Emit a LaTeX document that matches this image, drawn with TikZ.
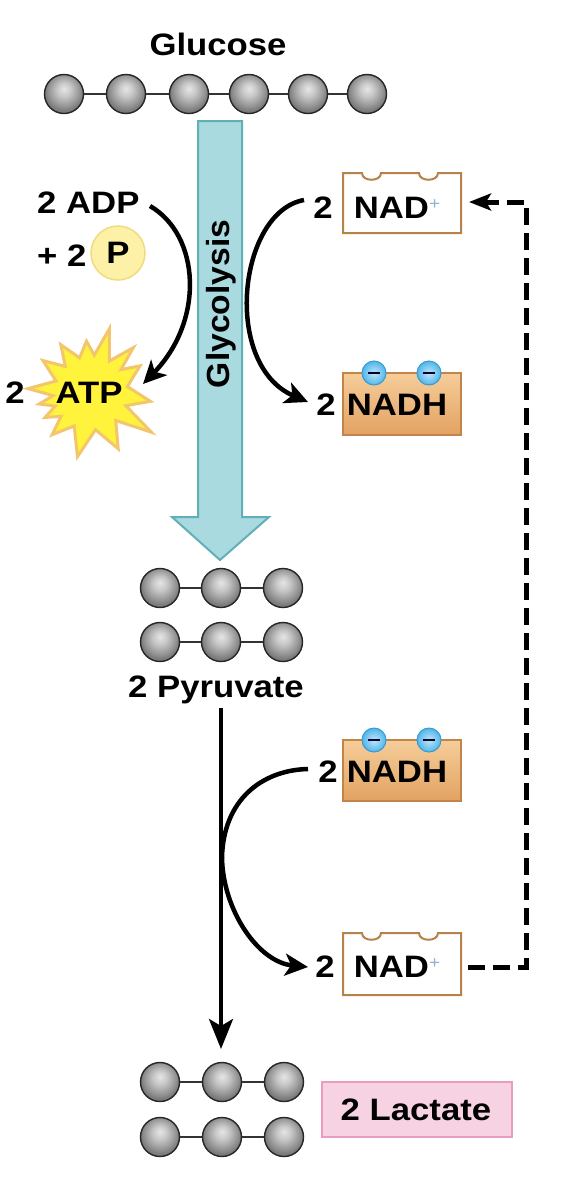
\documentclass[tikz,border=0pt]{standalone}
\usepackage{fontspec}
\setmainfont{Liberation Sans}[FakeStretch=1.12]
\newfontfamily\glyfont{Liberation Sans}[FakeStretch=1.05]
\usetikzlibrary{arrows.meta,shapes.geometric,calc}
\definecolor{shaftfill}{HTML}{A8DADF}
\definecolor{shaftdraw}{HTML}{62B0B6}
\definecolor{nadbrd}{HTML}{B5834A}
\definecolor{nadhtop}{HTML}{F6CD9A}
\definecolor{nadhbot}{HTML}{E2A262}
\definecolor{nadhbrd}{HTML}{C3844A}
\definecolor{minusfill}{HTML}{4FB6EA}
\definecolor{minusbrd}{HTML}{3A9AD2}
\definecolor{pfill}{HTML}{FCF1A6}
\definecolor{pbrd}{HTML}{F2DB7E}
\definecolor{starfill}{HTML}{FFF33B}
\definecolor{starbrd}{HTML}{F3C56C}
\definecolor{lacfill}{HTML}{F7D2E3}
\definecolor{lacbrd}{HTML}{E99CC0}
\definecolor{plusblue}{HTML}{8FB3D3}
\pgfdeclareradialshading{sphshade}{\pgfpoint{0bp}{7bp}}{color(0bp)=(black!10); color(9bp)=(black!22); color(20bp)=(black!42); color(25bp)=(black!52); color(50bp)=(black!52)}
\newcommand\nadplus{\raisebox{9pt}{\fontsize{17}{17}\selectfont\mdseries\color{plusblue}+}}
\begin{document}
\begin{tikzpicture}[x=1pt,y=-1pt,
  lbl/.style={font=\fontsize{31}{36}\selectfont\bfseries, inner sep=0pt},
  glylbl/.style={font=\glyfont\fontsize{32}{36}\selectfont\bfseries, inner sep=0pt},
  sph/.style={circle, minimum size=39pt, inner sep=0pt, shading=sphshade, draw=black!85, line width=1.4pt},
  bond/.style={draw=black!80, line width=1.6pt},
  arr/.style={line width=4.5pt, -{Stealth[length=23pt,width=22pt,inset=6pt]}},
  curv/.style={line width=4.5pt},
  dsh/.style={line width=5pt, dash pattern=on 17pt off 8pt},
  nadbox/.style={draw=nadbrd, line width=2pt, fill=white},
  nadhbox/.style={draw=nadhbrd, line width=2pt, top color=nadhtop, bottom color=nadhbot},
  minus/.style={circle, minimum size=24pt, inner sep=0pt, draw=minusbrd, line width=1pt, inner color=minusfill!35!white, outer color=minusfill},
  minusbar/.style={draw=black!80!blue, line width=2.5pt}
]
\fill[white] (0,0) rectangle (572,1192);
\useasboundingbox (0,0) rectangle (572,1192);

% Glucose
\node[lbl, anchor=base] (glc) at (218,55) {Glucose};
\foreach \i/\x in {1/64,2/126,3/189,4/249,5/308,6/367}{
  \node[sph] (g\i) at (\x,94) {};
}
\foreach \a/\b in {1/2,2/3,3/4,4/5,5/6}{ \draw[bond] (g\a) -- (g\b); }

% Glycolysis arrow
\draw[fill=shaftfill, draw=shaftdraw, line width=2pt]
  (198,121) -- (242,121) -- (242,517) -- (269,517) -- (220,560) -- (172,517) -- (198,517) -- cycle;
\node[glylbl, rotate=90, anchor=base] (gly) at (229,304) {Glycolysis};

% ADP / P / ATP
\node[lbl, anchor=base west] (adp) at (37,213) {2 ADP};
\node[lbl, anchor=base west] (plus) at (37,266) {+ 2};
\node[circle, minimum size=54pt, inner sep=0pt, fill=pfill, draw=pbrd, line width=1.5pt, font=\fontsize{31}{36}\selectfont\bfseries] (pc) at (118,253) {P};

\begin{scope}[shift={(91,393)}]
\draw[fill=starfill, draw=starbrd, line width=3pt]
  (102:65) -- (83:37) -- (64:62) -- (48:37) -- (33:72) -- (20:37) -- (8:60) -- (-10:37)
  -- (-29:56) -- (-38:38) -- (-47:62) -- (-60:37) -- (-74:67) -- (-85:38) -- (-95:52)
  -- (-108:37) -- (-122:57) -- (-134:37) -- (-146:58) -- (-161:37) -- (184:63) -- (176:38)
  -- (168:53) -- (160:38) -- (152:52) -- (142:38) -- (133:57) -- (117:37) -- cycle;
\end{scope}
\node[lbl, anchor=base] (atp2) at (15,403) {2};
\node[lbl, anchor=base] (atp) at (89,403) {ATP};

\coordinate (adpout) at (150,206);
\coordinate (atpin) at (143,384);
\draw[arr] (adpout) .. controls (200,235) and (205,320) .. (atpin);

% NAD+ top
\draw[nadbox] (343,173) -- (362,173) .. controls (362,182) and (381,182) .. (381,173)
  -- (419,173) .. controls (419,182) and (438,182) .. (438,173) -- (461,173) -- (461,233) -- (343,233) -- cycle;
\node[lbl, anchor=base] (nad1two) at (323,218) {2};
\node[lbl, anchor=base] (nad1) at (397,218) {NAD\nadplus};

% NADH top
\draw[nadhbox] (343,373) rectangle (461,435);
\node[minus] (m1) at (374,373) {};
\node[minus] (m2) at (429,373) {};
\draw[minusbar] ($(m1)+(-6,0)$) -- ($(m1)+(6,0)$);
\draw[minusbar] ($(m2)+(-6,0)$) -- ($(m2)+(6,0)$);
\node[lbl, anchor=base] (nadh1two) at (326,415) {2};
\node[lbl, anchor=base] (nadh1) at (397,415) {NADH};

\coordinate (nadout) at (304,200);
\coordinate (nadhin) at (308,402);
\draw[arr] (nadout) .. controls (238,212) and (222,365) .. (nadhin);

% Pyruvate
\foreach \r/\y in {1/588,2/642}{
  \foreach \i/\x in {1/160,2/221,3/283}{ \node[sph] (p\r\i) at (\x,\y) {}; }
  \draw[bond] (p\r1) -- (p\r2);
  \draw[bond] (p\r2) -- (p\r3);
}
\node[lbl, anchor=base] (pyr) at (216,697) {2 Pyruvate};

% NADH bottom
\draw[nadhbox] (343,740) rectangle (461,801);
\node[minus] (m3) at (374,740) {};
\node[minus] (m4) at (429,740) {};
\draw[minusbar] ($(m3)+(-6,0)$) -- ($(m3)+(6,0)$);
\draw[minusbar] ($(m4)+(-6,0)$) -- ($(m4)+(6,0)$);
\node[lbl, anchor=base] (nadh2two) at (328,782) {2};
\node[lbl, anchor=base] (nadh2) at (397,782) {NADH};

% NAD+ bottom
\draw[nadbox] (343,933) -- (362,933) .. controls (362,942) and (381,942) .. (381,933)
  -- (419,933) .. controls (419,942) and (438,942) .. (438,933) -- (461,933) -- (461,995) -- (343,995) -- cycle;
\node[lbl, anchor=base] (nad2two) at (325,977) {2};
\node[lbl, anchor=base] (nad2) at (397,977) {NAD\nadplus};

% Lactate
\foreach \r/\y in {1/1082,2/1137}{
  \foreach \i/\x in {1/160,2/222,3/284}{ \node[sph] (l\r\i) at (\x,\y) {}; }
  \draw[bond] (l\r1) -- (l\r2);
  \draw[bond] (l\r2) -- (l\r3);
}
\draw[fill=lacfill, draw=lacbrd, line width=1.5pt] (322,1082) rectangle (512,1137);
\node[lbl, anchor=base] (lac) at (416,1120) {2 Lactate};

% Main vertical arrow
\coordinate (pyrout) at (221,708);
\coordinate (lacin) at (221,1049);
\draw[line width=4pt, -{Stealth[length=30pt,width=24pt,inset=7pt]}] (pyrout) -- (lacin);

% NADH -> NAD+ curve
\coordinate (nadh2out) at (308,769);
\coordinate (merge) at (222,858);
\coordinate (nad2in) at (308,967);
\draw[curv] (nadh2out) .. controls (262,770) and (223,800) .. (merge);
\draw[arr] (merge) .. controls (223,910) and (258,962) .. (nad2in);

% dashed recycling
\coordinate (d0) at (468,967);
\coordinate (d1) at (526,967);
\coordinate (d2) at (526,202);
\coordinate (d3) at (469,202);
\draw[dsh] (d0) -- (d1) -- (d2) -- ($(d3)+(20,0)$);
\draw[line width=5pt, -{Stealth[length=22pt,width=17pt,inset=5pt]}] ($(d3)+(22,0)$) -- (d3);
\end{tikzpicture}
\end{document}
